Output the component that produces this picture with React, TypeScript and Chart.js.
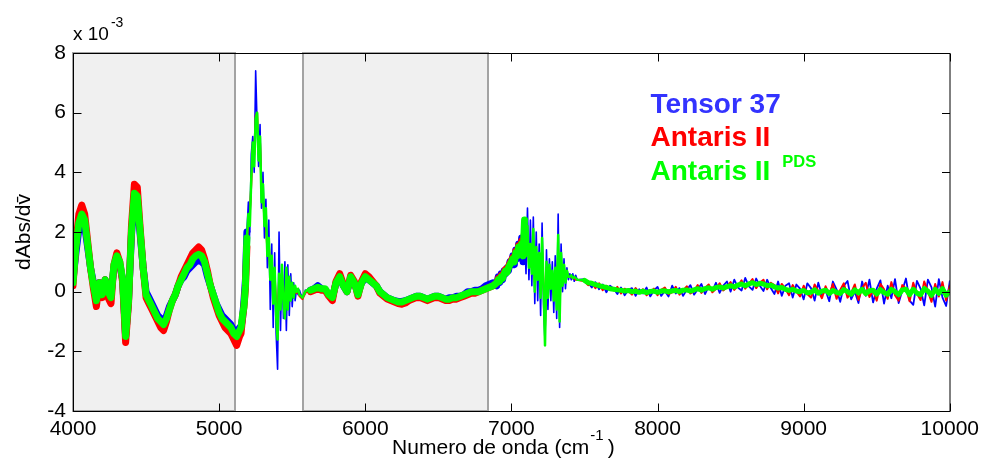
import { useEffect, useRef } from 'react';
import { Chart, registerables } from 'chart.js';

Chart.register(...registerables);

const FONT = "'Liberation Sans', Arial, Helvetica, sans-serif";

// Wavenumber grid (cm^-1)
const WAVENUMBER: number[] = [
  4000, 4020, 4040, 4060, 4080, 4100, 4120, 4140, 4160, 4180,
  4200, 4220, 4240, 4260, 4280, 4300, 4320, 4340, 4360, 4380,
  4400, 4420, 4440, 4460, 4480, 4500, 4520, 4540, 4560, 4580,
  4600, 4620, 4640, 4660, 4680, 4700, 4720, 4740, 4760, 4780,
  4800, 4820, 4840, 4860, 4880, 4900, 4920, 4940, 4960, 4980,
  5000, 5020, 5040, 5060, 5080, 5100, 5120, 5140,
  5150, 5160, 5170, 5180, 5190, 5200, 5210, 5220, 5230, 5240,
  5250, 5260, 5270, 5280, 5290, 5300, 5310, 5320, 5330, 5340,
  5350, 5360, 5370, 5380, 5390, 5400, 5410, 5420, 5430, 5440,
  5450, 5460, 5470, 5480, 5490, 5500, 5510, 5520, 5530, 5540,
  5550, 5560, 5570, 5580, 5590, 5600,
  5625, 5650, 5675, 5700, 5725, 5750, 5775, 5800, 5825, 5850,
  5875, 5900, 5925, 5950, 5975, 6000, 6025, 6050, 6075, 6100,
  6125, 6150, 6175, 6200, 6225, 6250, 6275, 6300, 6325, 6350,
  6375, 6400, 6425, 6450, 6475, 6500, 6525, 6550, 6575, 6600,
  6625, 6650, 6675, 6700, 6725, 6750, 6775, 6800, 6825, 6850,
  6875,
  6900, 6910, 6920, 6930, 6940, 6950, 6960, 6970, 6980, 6990,
  7000, 7010, 7020, 7030, 7040, 7050, 7060, 7070, 7080, 7090,
  7100, 7110, 7120, 7130, 7140, 7150, 7160, 7170, 7180, 7190,
  7200, 7210, 7220, 7230, 7240, 7250, 7260, 7270, 7280, 7290,
  7300, 7310, 7320, 7330, 7340, 7350, 7360, 7370, 7380, 7390,
  7400, 7410, 7420, 7430, 7440, 7450,
  7500, 7525, 7550, 7575, 7600, 7625, 7650, 7675, 7700, 7725,
  7750, 7775, 7800, 7825, 7850, 7875, 7900, 7925, 7950, 7975,
  8000, 8025, 8050, 8075, 8100, 8125, 8150, 8175, 8200, 8225,
  8250, 8275, 8300, 8325, 8350, 8375, 8400, 8425, 8450, 8475,
  8500, 8525, 8550, 8575, 8600, 8625, 8650, 8675, 8700, 8725,
  8750, 8775, 8800, 8825, 8850, 8875, 8900, 8925, 8950, 8975,
  9000, 9025, 9050, 9075, 9100, 9125, 9150, 9175, 9200, 9225,
  9250, 9275, 9300, 9325, 9350, 9375, 9400, 9425, 9450, 9475,
  9500, 9525, 9550, 9575, 9600, 9625, 9650, 9675, 9700, 9725,
  9750, 9775, 9800, 9825, 9850, 9875, 9900, 9925, 9950, 9975,
  10000,
];

// dAbs/dv values, x 10^-3
const TENSOR_37: number[] = [
  0.4, 1.3, 2.1, 2.3, 2.2, 1.5, 0.8, 0.3, -0.2, 0.3,
  0.0, 0.4, 0.0, -0.1, 0.8, 1.1, 0.9, 0.4, -1.5, -0.3,
  1.9, 3.1, 3.0, 1.9, 0.8, 0.0, -0.2, -0.4, -0.6, -0.8,
  -0.9, -1.0, -0.8, -0.5, -0.3, -0.1, 0.2, 0.4, 0.5, 0.7,
  0.8, 0.9, 1.0, 1.05, 1.0, 0.9, 0.5, 0.2, -0.1, -0.4,
  -0.6, -0.8, -0.9, -1.0, -1.1, -1.3, -1.4, -1.2,
  -1.2, -0.9, -0.3, 0.4, 2.0, 3.0, 2.0, 4.6, 5.2, 4.0,
  7.4, 5.6, 4.2, 5.6, 2.8, 4.0, 1.8, 3.1, 0.8, 2.4,
  -0.6, 1.6, -1.2, 1.3, -1.4, -2.6, 2.0, -1.3, 0.9, -0.9,
  1.0, -1.3, 0.9, -0.8, 0.6, -0.5, 0.3, -0.3, 0.1, -0.1,
  0.05, -0.1, -0.2, -0.1, 0.05, 0.0,
  0.05, 0.1, 0.2, 0.1, 0.05, -0.1, -0.2, 0.3, 0.45, 0.2,
  0.0, 0.45, 0.3, -0.05, 0.3, 0.45, 0.4, 0.3, 0.2, 0.0,
  -0.1, -0.2, -0.25, -0.3, -0.33, -0.33, -0.3, -0.25, -0.2, -0.15,
  -0.15, -0.2, -0.25, -0.2, -0.15, -0.15, -0.2, -0.25, -0.2, -0.2,
  -0.15, -0.15, -0.1, 0.0, 0.0, 0.05, 0.05, 0.1, 0.2, 0.25,
  0.3,
  0.2, 0.5, 0.3, 0.6, 0.4, 0.7, 0.6, 0.8, 0.7, 1.0,
  0.9, 1.2, 0.9, 1.4, 1.1, 1.6, 1.2, 1.8, 1.0, 2.0,
  0.6, 2.8, 0.4, 2.4, 0.2, 2.5, -0.4, 2.0, -0.3, 1.6,
  -0.8, 2.3, -0.4, -1.7, 1.4, -0.6, 1.1, -0.3, 1.0, -0.7,
  1.2, -0.9, 2.6, -1.2, 1.6, 0.0, 1.1, 0.1, 0.8, 0.4,
  0.6, 0.4, 0.6, 0.35, 0.55, 0.4,
  0.42, 0.3, 0.14, 0.32, 0.08, 0.24, -0.02, 0.2, 0.1, -0.08,
  0.14, -0.12, 0.06, 0.12, -0.14, 0.08, -0.06, 0.14, -0.16, 0.04,
  0.16, -0.14, 0.02, -0.16, 0.2, -0.06, 0.12, -0.14, 0.06, 0.22,
  -0.1, 0.08, 0.26, -0.08, 0.18, 0.02, 0.3, -0.04, 0.2, 0.34,
  0.0, 0.4, 0.14, 0.04, 0.46, 0.18, 0.06, 0.44, 0.2, 0.02,
  0.4, 0.12, -0.08, 0.34, -0.14, 0.2, 0.28, -0.2, 0.24, 0.1,
  -0.26, 0.28, 0.12, -0.3, 0.3, -0.12, 0.04, -0.32, 0.34, 0.08,
  -0.34, 0.2, 0.36, -0.26, 0.0, -0.38, 0.34, -0.14, 0.4, -0.36,
  0.1, 0.38, -0.4, 0.2, -0.22, 0.42, -0.38, 0.04, 0.44, -0.3,
  -0.44, 0.36, 0.1, -0.46, 0.4, 0.14, -0.5, 0.42, -0.2, -0.48,
  0.35,
];

const ANTARIS_II: number[] = [
  0.2, 1.6, 2.6, 2.9, 2.6, 1.7, 0.8, 0.1, -0.5, 0.3,
  -0.2, 0.4, -0.2, -0.4, 0.9, 1.3, 1.0, 0.3, -1.7, -0.4,
  2.2, 3.6, 3.5, 2.1, 0.8, -0.2, -0.4, -0.6, -0.8, -1.0,
  -1.2, -1.3, -1.0, -0.6, -0.3, -0.1, 0.2, 0.5, 0.7, 0.9,
  1.1, 1.3, 1.4, 1.5, 1.4, 1.1, 0.7, 0.2, -0.2, -0.5,
  -0.8, -1.0, -1.2, -1.3, -1.4, -1.6, -1.8, -1.5,
  -1.4, -0.9, -0.5, 0.1, 1.5, 2.4, 2.6, 3.6, 4.8, 4.6,
  5.9, 6.0, 4.8, 5.0, 3.4, 3.2, 2.4, 2.2, 1.4, 1.6,
  0.6, 0.9, -0.1, 0.6, -0.4, -0.9, 0.4, -0.3, 0.5, -0.2,
  -0.5, 0.5, -0.3, 0.3, -0.2, 0.2, -0.15, 0.1, -0.05, 0.05,
  -0.15, -0.2, -0.25, -0.15, -0.05, 0.0,
  0.0, 0.05, 0.1, 0.05, 0.05, -0.15, -0.3, 0.35, 0.6, 0.25,
  0.0, 0.55, 0.35, -0.15, 0.35, 0.6, 0.5, 0.35, 0.2, -0.05,
  -0.15, -0.25, -0.3, -0.35, -0.4, -0.42, -0.38, -0.3, -0.25, -0.2,
  -0.2, -0.25, -0.3, -0.25, -0.2, -0.2, -0.25, -0.3, -0.3, -0.25,
  -0.25, -0.2, -0.15, -0.1, -0.05, -0.05, 0.0, 0.05, 0.1, 0.15,
  0.2,
  0.3, 0.45, 0.4, 0.55, 0.5, 0.65, 0.75, 0.7, 0.85, 0.95,
  1.05, 1.15, 1.1, 1.35, 1.3, 1.55, 1.4, 1.7, 1.4, 2.0,
  1.3, 1.9, 1.0, 1.5, 0.8, 1.7, 0.3, 1.3, 0.5, 1.1,
  0.0, 1.4, 0.3, -1.2, 0.8, 0.0, 0.7, 0.2, 0.6, -0.1,
  0.7, -0.3, 1.4, -0.6, 1.0, 0.3, 0.8, 0.35, 0.65, 0.5,
  0.5, 0.5, 0.45, 0.45, 0.4, 0.4,
  0.35, 0.22, 0.3, 0.12, 0.28, 0.05, 0.2, 0.1, 0.04, 0.16,
  -0.06, 0.1, 0.02, -0.1, 0.12, -0.04, 0.08, -0.12, 0.0, 0.1,
  -0.12, 0.06, 0.14, -0.08, -0.02, 0.16, -0.1, 0.04, 0.18, -0.06,
  0.02, 0.22, -0.04, 0.12, 0.24, -0.02, 0.1, 0.28, 0.04, 0.16,
  0.32, 0.06, 0.2, 0.38, 0.1, 0.26, 0.42, 0.12, 0.3, 0.4,
  0.08, 0.3, 0.22, -0.06, 0.26, 0.1, -0.12, 0.22, 0.0, -0.16,
  0.2, -0.08, -0.2, 0.24, 0.02, -0.22, 0.18, -0.1, 0.26, -0.24,
  0.06, 0.28, -0.2, -0.04, 0.24, -0.28, 0.12, 0.3, -0.18, 0.04,
  -0.3, 0.26, 0.08, -0.24, 0.32, -0.12, -0.3, 0.22, 0.1, -0.32,
  0.3, -0.06, -0.28, 0.34, 0.02, -0.34, 0.26, -0.16, 0.32, -0.3,
  0.2,
];

const ANTARIS_II_PDS: number[] = [
  0.3, 1.5, 2.3, 2.6, 2.4, 1.6, 0.8, 0.2, -0.3, 0.3,
  -0.1, 0.4, 0.0, -0.2, 0.9, 1.2, 1.0, 0.4, -1.5, -0.3,
  2.0, 3.3, 3.2, 2.0, 0.8, -0.1, -0.3, -0.5, -0.7, -0.9,
  -1.0, -1.1, -0.9, -0.6, -0.3, -0.1, 0.2, 0.4, 0.6, 0.8,
  0.9, 1.1, 1.2, 1.25, 1.2, 1.0, 0.6, 0.2, -0.1, -0.4,
  -0.7, -0.9, -1.0, -1.1, -1.2, -1.4, -1.5, -1.3,
  -1.2, -0.8, -0.5, 0.2, 1.8, 2.6, 2.2, 3.8, 5.0, 4.2,
  5.8, 6.0, 4.4, 5.2, 3.0, 3.6, 2.2, 2.8, 1.2, 1.8,
  0.4, 1.2, -0.4, 0.8, -0.8, -1.6, 0.6, -0.6, 0.9, -0.3,
  -0.9, 0.8, -0.6, 0.5, -0.3, 0.3, -0.2, 0.2, 0.0, 0.1,
  -0.1, -0.15, -0.2, -0.1, 0.0, 0.05,
  0.05, 0.1, 0.15, 0.1, 0.1, -0.1, -0.2, 0.3, 0.5, 0.2,
  0.0, 0.5, 0.3, -0.1, 0.3, 0.5, 0.4, 0.3, 0.2, 0.0,
  -0.1, -0.2, -0.25, -0.3, -0.35, -0.35, -0.3, -0.25, -0.2, -0.15,
  -0.15, -0.2, -0.25, -0.2, -0.15, -0.15, -0.2, -0.25, -0.25, -0.2,
  -0.2, -0.15, -0.1, -0.05, 0.0, 0.0, 0.0, 0.05, 0.1, 0.15,
  0.2,
  0.3, 0.4, 0.35, 0.5, 0.45, 0.6, 0.7, 0.65, 0.8, 0.9,
  1.0, 1.1, 1.0, 1.3, 1.2, 1.5, 1.3, 1.6, 1.2, 2.4,
  1.2, 2.2, 0.8, 1.6, 0.6, 2.1, 0.0, 1.5, 0.4, 1.3,
  -0.2, 1.8, 0.2, -1.8, 1.0, -0.2, 0.9, 0.1, 0.7, -0.3,
  0.8, -0.6, 1.9, -1.0, 1.3, 0.2, 0.9, 0.3, 0.7, 0.5,
  0.5, 0.55, 0.45, 0.5, 0.45, 0.4,
  0.38, 0.3, 0.28, 0.24, 0.2, 0.17, 0.14, 0.1, 0.08, 0.06,
  0.05, 0.02, 0.04, 0.0, 0.02, -0.02, 0.02, -0.03, 0.01, 0.02,
  -0.02, 0.02, 0.03, -0.01, 0.03, 0.04, 0.0, 0.05, 0.06, 0.02,
  0.06, 0.1, 0.05, 0.1, 0.13, 0.08, 0.14, 0.16, 0.12, 0.17,
  0.2, 0.16, 0.22, 0.26, 0.2, 0.26, 0.3, 0.24, 0.28, 0.26,
  0.2, 0.22, 0.16, 0.12, 0.14, 0.08, 0.04, 0.08, 0.02, 0.0,
  0.04, -0.04, -0.02, 0.06, -0.05, 0.02, 0.05, -0.06, 0.04, -0.02,
  -0.06, 0.07, 0.0, -0.08, 0.06, -0.04, 0.08, -0.07, 0.03, 0.05,
  -0.08, 0.07, -0.03, -0.09, 0.08, 0.0, -0.1, 0.06, 0.08, -0.1,
  0.08, -0.05, -0.1, 0.1, 0.02, -0.12, 0.08, -0.06, 0.1, -0.12,
  0.0,
];

const SERIES_NAMES: string[] = ['Tensor 37', 'Antaris II', 'Antaris II'];
const SERIES_SUPERSCRIPTS: string[] = ['', '', 'PDS'];
const X_TICKS: number[] = [4000, 5000, 6000, 7000, 8000, 9000, 10000];
const Y_TICKS: number[] = [-4, -2, 0, 2, 4, 6, 8];
// shaded wavenumber windows
const SHADED_WINDOWS: number[][] = [[4000, 5108], [5572, 6840]];

// styling
const LINE_COLORS = ['#0000ff', '#ff0000', '#00ff00'];
const TEXT_COLORS = ['#3333ff', '#ff0000', '#00ff00'];
const WIDTHS = [
  { smooth: 7, noisy: 1.6, tail: 1.8 },
  { smooth: 7, noisy: 2, tail: 2 },
  { smooth: 7, noisy: 2.5, tail: 5 },
];
const NOISY_RANGES = [[5185, 5620], [7085, 7460]];

function widthAt(x: number, w: { smooth: number; noisy: number; tail: number }) {
  if (x >= 7460) return w.tail;
  for (const [a, b] of NOISY_RANGES) if (x >= a && x < b) return w.noisy;
  return w.smooth;
}

const framePlugin = {
  id: 'matlabFrame',
  beforeDatasetsDraw(chart: any) {
    const { ctx, chartArea: a, scales } = chart;
    const xs = scales.x;
    ctx.save();
    for (const [from, to] of SHADED_WINDOWS) {
      const x1 = Math.round(xs.getPixelForValue(from));
      const x2 = Math.round(xs.getPixelForValue(to));
      ctx.fillStyle = '#f0f0f0';
      ctx.fillRect(x1, a.top, x2 - x1, a.bottom - a.top);
      ctx.strokeStyle = '#a3a3a3';
      ctx.lineWidth = 2;
      ctx.strokeRect(x1, a.top, x2 - x1, a.bottom - a.top);
    }
    ctx.restore();
  },
  afterDatasetsDraw(chart: any) {
    const { ctx, chartArea: a, scales } = chart;
    const xs = scales.x;
    const ys = scales.y;
    const L = Math.round(a.left) + 0.5;
    const R = Math.round(a.right);
    const T = Math.round(a.top) + 0.5;
    const B = Math.round(a.bottom) + 0.5;
    ctx.save();
    ctx.lineWidth = 1;
    ctx.strokeStyle = '#000';
    ctx.beginPath();
    ctx.moveTo(L, T); ctx.lineTo(R, T);
    ctx.moveTo(L, B); ctx.lineTo(R, B);
    ctx.moveTo(L, T); ctx.lineTo(L, B);
    ctx.moveTo(R, T); ctx.lineTo(R, B);
    const tl = 8;
    for (const v of X_TICKS) {
      const px = Math.round(xs.getPixelForValue(v)) + 0.5;
      ctx.moveTo(px, B); ctx.lineTo(px, B - tl);
      ctx.moveTo(px, T); ctx.lineTo(px, T + tl);
    }
    for (const v of Y_TICKS) {
      const py = Math.round(ys.getPixelForValue(v)) + 0.5;
      ctx.moveTo(L, py); ctx.lineTo(L + tl, py);
      ctx.moveTo(R, py); ctx.lineTo(R - tl, py);
    }
    ctx.stroke();
    ctx.restore();
  },
  afterDraw(chart: any) {
    const { ctx, chartArea: a } = chart;
    const w = a.right - a.left;
    const h = a.bottom - a.top;
    ctx.save();
    ctx.textBaseline = 'alphabetic';
    ctx.textAlign = 'left';

    // legend text inside the axes
    const lx = a.left + 0.6587 * w;
    const baseFr = [0.1676, 0.2598, 0.3547];
    SERIES_NAMES.forEach((name, i) => {
      const y = a.top + baseFr[i] * h;
      ctx.font = `bold 28px ${FONT}`;
      ctx.fillStyle = TEXT_COLORS[i];
      ctx.fillText(name, lx, y);
      const sup = SERIES_SUPERSCRIPTS[i];
      if (sup) {
        const tw = ctx.measureText(name).width;
        ctx.font = `bold 16.5px ${FONT}`;
        ctx.fillText(sup, lx + tw + 12, y - 13);
      }
    });

    // exponent label
    ctx.fillStyle = '#000';
    ctx.font = `19px ${FONT}`;
    const base = 'x 10';
    ctx.fillText(base, a.left, a.top - 13);
    const bw = ctx.measureText(base).width;
    ctx.font = `14px ${FONT}`;
    ctx.fillText('-3', a.left + bw + 2, a.top - 26);

    // x-axis title with superscript
    const t1 = 'Numero de onda (cm';
    const t2 = '-1';
    const t3 = ')';
    ctx.font = `21px ${FONT}`;
    const w1 = ctx.measureText(t1).width;
    const w3 = ctx.measureText(t3).width;
    ctx.font = `15px ${FONT}`;
    const w2 = ctx.measureText(t2).width;
    const total = w1 + 1 + w2 + 4 + w3;
    const sx = (a.left + a.right) / 2 - total / 2 - 8;
    const by = a.bottom + 43;
    ctx.font = `21px ${FONT}`;
    ctx.fillText(t1, sx, by);
    ctx.font = `15px ${FONT}`;
    ctx.fillText(t2, sx + w1 + 1, by - 14);
    ctx.font = `21px ${FONT}`;
    ctx.fillText(t3, sx + w1 + 1 + w2 + 4, by);
    ctx.restore();
  },
};

function toPoints(values: number[]) {
  const n = Math.min(WAVENUMBER.length, values.length);
  const pts: { x: number; y: number }[] = [];
  for (let i = 0; i < n; i++) pts.push({ x: WAVENUMBER[i], y: values[i] });
  return pts;
}

export default function App() {
  const ref = useRef<HTMLCanvasElement>(null);

  useEffect(() => {
    const canvas = ref.current;
    if (!canvas) return;
    const seriesValues = [TENSOR_37, ANTARIS_II, ANTARIS_II_PDS];
    const datasets = seriesValues.map((vals, i) => ({
      label: SERIES_NAMES[i] + (SERIES_SUPERSCRIPTS[i] ? ' ' + SERIES_SUPERSCRIPTS[i] : ''),
      data: toPoints(vals),
      borderColor: LINE_COLORS[i],
      backgroundColor: LINE_COLORS[i],
      borderWidth: WIDTHS[i].smooth,
      borderJoinStyle: 'round' as const,
      borderCapStyle: 'round' as const,
      pointRadius: 0,
      tension: 0,
      fill: false,
      order: 2 - i,
      segment: {
        borderWidth: (ctx: any) => widthAt(ctx.p0.parsed.x, WIDTHS[i]),
      },
    }));

    const tickFont = { size: 21, family: FONT };
    const chart = new Chart(canvas, {
      type: 'line',
      data: { datasets },
      options: {
        responsive: false,
        animation: false,
        devicePixelRatio: 1,
        events: [],
        parsing: false,
        layout: { padding: { top: 53, right: 33, left: 0, bottom: 0 } },
        plugins: { legend: { display: false }, tooltip: { enabled: false } },
        scales: {
          x: {
            type: 'linear',
            min: 4000,
            max: 10000,
            grid: { display: false, drawTicks: false },
            border: { display: false },
            ticks: {
              autoSkip: false,
              maxRotation: 0,
              padding: 6,
              color: '#000',
              font: tickFont,
              callback: (v: any) => String(v),
            },
            afterBuildTicks: (s: any) => { s.ticks = X_TICKS.map((v) => ({ value: v })); },
            afterFit: (s: any) => { s.height = 48; },
          },
          y: {
            type: 'linear',
            min: -4,
            max: 8,
            grid: { display: false, drawTicks: false },
            border: { display: false },
            ticks: {
              padding: 7,
              color: '#000',
              font: tickFont,
              callback: (v: any) => String(v),
            },
            afterBuildTicks: (s: any) => { s.ticks = Y_TICKS.map((v) => ({ value: v })); },
            afterFit: (s: any) => { s.width = 73; },
            title: {
              display: true,
              text: 'dAbs/dv\u0304',
              color: '#000',
              font: { size: 21, family: FONT },
              padding: { top: 12, bottom: 0 },
            },
          },
        },
      } as any,
      plugins: [framePlugin],
    });
    return () => chart.destroy();
  }, []);

  return (
    <div style={{ position: 'absolute', left: 0, top: 0, width: 985, height: 459, background: '#fff' }}>
      <canvas ref={ref} width={985} height={459} style={{ display: 'block' }} />
    </div>
  );
}
